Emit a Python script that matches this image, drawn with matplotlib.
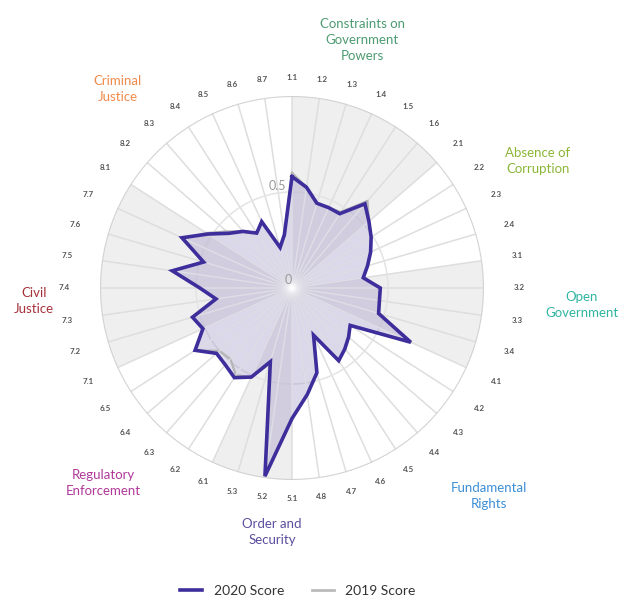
import numpy as np
import matplotlib
matplotlib.use('Agg')
import matplotlib.pyplot as plt
from matplotlib.lines import Line2D

plt.rcParams['font.family'] = ['Lato', 'DejaVu Sans']

subfactors = ['1.1', '1.2', '1.3', '1.4', '1.5', '1.6',
              '2.1', '2.2', '2.3', '2.4',
              '3.1', '3.2', '3.3', '3.4',
              '4.1', '4.2', '4.3', '4.4', '4.5', '4.6', '4.7', '4.8',
              '5.1', '5.2', '5.3',
              '6.1', '6.2', '6.3', '6.4', '6.5',
              '7.1', '7.2', '7.3', '7.4', '7.5', '7.6', '7.7',
              '8.1', '8.2', '8.3', '8.4', '8.5', '8.6', '8.7']

score_2020 = [0.58, 0.53, 0.46, 0.46, 0.46, 0.58,
              0.53, 0.49, 0.45, 0.41,
              0.375, 0.46, 0.46, 0.47,
              0.68, 0.36, 0.39, 0.42, 0.45, 0.27, 0.46, 0.56,
              0.68, 0.99, 0.40,
              0.51, 0.555, 0.53, 0.52, 0.60,
              0.51, 0.54, 0.40, 0.48, 0.63, 0.48, 0.63,
              0.52, 0.435, 0.39, 0.34, 0.38, 0.22, 0.28]

score_2019 = [0.60, 0.53, 0.46, 0.46, 0.47, 0.60,
              0.53, 0.49, 0.45, 0.41,
              0.375, 0.46, 0.46, 0.47,
              0.68, 0.36, 0.39, 0.42, 0.45, 0.27, 0.46, 0.56,
              0.68, 0.98, 0.41,
              0.51, 0.54, 0.49, 0.50, 0.60,
              0.51, 0.54, 0.40, 0.48, 0.63, 0.48, 0.62,
              0.53, 0.45, 0.39, 0.34, 0.38, 0.22, 0.28]

factor_names = ['Constraints on\nGovernment\nPowers', 'Absence of\nCorruption',
                'Open\nGovernment', 'Fundamental\nRights', 'Order and\nSecurity',
                'Regulatory\nEnforcement', 'Civil\nJustice', 'Criminal\nJustice']
factor_sizes = [6, 4, 4, 8, 3, 5, 7, 7]
factor_colors = ['#4e9b72', '#8cb636', '#2fb5a0', '#3d8fd6',
                 '#5b4fa0', '#b0399a', '#a8323c', '#f08a4b']
# label centres in pixels (x from left, y from top)
factor_label_pos = [(362, 40), (538, 161), (582, 305), (489, 496),
                    (272, 532), (103, 483), (34, 301), (118, 89)]

W, H = 627, 605
fig = plt.figure(figsize=(W / 100, H / 100), dpi=100)
cx, cy, R = 292, 288, 192
ax = fig.add_axes([(cx - R) / W, (H - cy - R) / H, 2 * R / W, 2 * R / H], polar=True)
ax.set_theta_zero_location('N')
ax.set_theta_direction(-1)
ax.set_ylim(0, 1)
ax.grid(False)
ax.spines['polar'].set_visible(False)
ax.set_xticks([])
ax.set_yticks([])
ax.patch.set_alpha(0)

n = len(subfactors)
step = 2 * np.pi / n
theta = np.arange(n) * step

# alternating sector background
start = 0
for k, size in enumerate(factor_sizes):
    if k % 2 == 0:
        ax.bar(start * step, 1, width=size * step, align='edge',
               color='#efefef', edgecolor='none', zorder=0)
    start += size

# spokes and circles
for t in theta:
    ax.plot([t, t], [0, 1], color='#dedede', lw=1.1, zorder=1)
circ = np.linspace(0, 2 * np.pi, 400)
ax.plot(circ, np.full_like(circ, 0.5), color='#e4e4e4', lw=1.1, zorder=1)
ax.plot(circ, np.full_like(circ, 1.0), color='#d3d3d3', lw=1.6, zorder=1)

# 2019 series
t_closed = np.append(theta, theta[0])
s19 = np.append(score_2019, score_2019[0])
s20 = np.append(score_2020, score_2020[0])
ax.fill(t_closed, s19, color='#bbbbbb', alpha=0.12, zorder=2)
ax.plot(t_closed, s19, color='#b5b5b5', lw=1.6, zorder=3)

# 2020 series
patch = ax.fill(t_closed, s20, color='#8e80c4', alpha=0.25, zorder=2)[0]
for t in theta:
    ln, = ax.plot([t, t], [0, 1], color='white', lw=1.1, alpha=0.45, zorder=3)
    ln.set_clip_path(patch)
ax.plot(t_closed, s20, color='#3d2e9c', lw=2.6, zorder=4, solid_joinstyle='miter')

ax.text(-0.02, 0.04, '0', color='#999999', fontsize=9, ha='right', va='center', zorder=5)
ax.text(-0.06, 0.53, '0.5', color='#999999', fontsize=9, ha='right', va='center', zorder=5)

# subfactor labels
for t, lab in zip(theta, subfactors):
    r = 1.095 + 0.09 * np.sin(t) ** 2
    ax.text(t, r, lab, fontsize=5.8, color='#555555', fontweight='bold',
            ha='center', va='center')

# factor labels
for name, col, (px, py) in zip(factor_names, factor_colors, factor_label_pos):
    fig.text(px / W, 1 - py / H, name, color=col, fontsize=9.5,
             ha='center', va='center', linespacing=1.45)

handles = [Line2D([], [], color='#3d2e9c', lw=2.6),
           Line2D([], [], color='#bbbbbb', lw=2)]
fig.legend(handles, ['2020 Score', '2019 Score'], loc='lower center',
           bbox_to_anchor=(0.475, -0.008), ncol=2, frameon=False, fontsize=10,
           handlelength=1.6, columnspacing=2.0, labelcolor='#333333')

fig.savefig('out.png', dpi=100)
